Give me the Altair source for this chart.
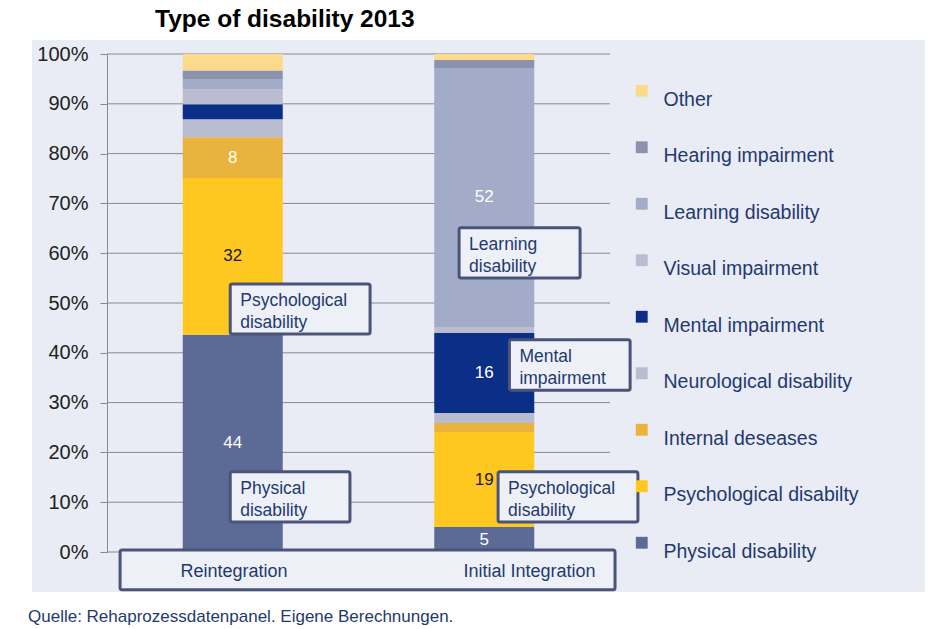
import altair as alt
import pandas as pd

# ---------------- data ----------------
title_text = "Type of disability 2013"
source_text = "Quelle: Rehaprozessdatenpanel. Eigene Berechnungen."

categories = ["Reintegration", "Initial Integration"]
# stack order bottom -> top
types = [
    "Physical disability",
    "Psychological disabilty",
    "Internal deseases",
    "Neurological disability",
    "Mental impairment",
    "Visual impairment",
    "Learning disability",
    "Hearing impairment",
    "Other",
]
reintegration = [43.6, 31.5, 8.2, 3.6, 3.0, 3.0, 2.0, 1.8, 3.3]
initial_integration = [5.0, 19.1, 1.8, 2.0, 16.1, 1.2, 52.0, 1.6, 1.2]
colors = ["#5B6B95", "#FFC820", "#E8B43E", "#B8BCD0", "#0B2E86",
          "#BABDD0", "#A2ABC8", "#8C92AC", "#FCDA8C"]
y_ticks = [0, 10, 20, 30, 40, 50, 60, 70, 80, 90, 100]

# annotation call-out boxes (x in category units, y in %)
ann_text = ["Psychological\ndisability", "Physical\ndisability",
            "Learning\ndisability", "Mental\nimpairment",
            "Psychological\ndisability"]
ann_x0 = [0.49, 0.49, 1.40, 1.60, 1.555]
ann_x1 = [1.046, 0.966, 1.881, 2.08, 2.111]
ann_y0 = [43.8, 6.0, 55.0, 32.5, 6.0]
ann_y1 = [53.8, 16.1, 65.1, 42.6, 16.1]

# category label box
cat_label_x = [0.505, 1.68]
cat_box_x = [0.052, 2.02]
cat_box_y = [0.4, -7.6]

# ---------------- tables ----------------
rows = []
for ci, (cat, vals) in enumerate(zip(categories, [reintegration, initial_integration])):
    base = 0.0
    for ti, (t, v) in enumerate(zip(types, vals)):
        rows.append(dict(category=cat, pos=ci + 0.5, type=t, order=ti, value=v,
                         y0=base, y1=base + v, mid=base + v / 2,
                         label=str(round(v)) if v >= 5 else ""))
        base += v
df = pd.DataFrame(rows)

ann = pd.DataFrame(dict(text=ann_text, x0=ann_x0, x1=ann_x1, y0=ann_y0, y1=ann_y1))
ann["mid"] = (ann.y0 + ann.y1) / 2

catlab = pd.DataFrame(dict(text=categories, x=cat_label_x,
                           y=[(cat_box_y[0] + cat_box_y[1]) / 2] * 2))
catbox = pd.DataFrame(dict(x0=[cat_box_x[0]], x1=[cat_box_x[1]],
                           y0=[cat_box_y[0]], y1=[cat_box_y[1]]))
ticks_df = pd.DataFrame(dict(tick=y_ticks))

FONT = "Liberation Sans"
TXT = "#1F3A6E"
W, H = 503, 498

xscale = alt.Scale(domain=[0, 2], nice=False, zero=False, padding=0)
yscale = alt.Scale(domain=[0, 100], nice=False, padding=0)
yaxis = alt.Axis(values=y_ticks, labelExpr="datum.value + '%'", grid=False,
                 tickSize=7, tickColor="#8a8a8a", domainColor="#8a8a8a",
                 labelFontSize=20, labelColor="#222222", labelFont=FONT,
                 labelPadding=12, title=None, zindex=1)

panel = alt.Chart(pd.DataFrame(dict(a=[0]))).mark_rect(color="#E9EBF5").encode(
    x=alt.value(-75), x2=alt.value(818), y=alt.value(-14), y2=alt.value(538))

grid = alt.Chart(ticks_df).mark_rule(color="#8a8a8a", strokeWidth=1).encode(
    y=alt.Y("tick:Q", scale=yscale, axis=yaxis),
    x=alt.value(0), x2=alt.value(W))

bars = alt.Chart(df).mark_bar(size=100).encode(
    x=alt.X("pos:Q", scale=xscale, axis=None),
    y=alt.Y("y0:Q", scale=yscale, axis=yaxis),
    y2="y1:Q",
    color=alt.Color("type:N",
                    scale=alt.Scale(domain=types[::-1], range=colors[::-1]),
                    legend=alt.Legend(title=None, orient="none", legendX=525,
                                      legendY=27, symbolType="square",
                                      symbolSize=140, symbolStrokeWidth=0,
                                      labelFontSize=19.5, labelFont=FONT,
                                      labelColor=TXT, labelOffset=12,
                                      labelBaseline="top", labelLimit=300,
                                      rowPadding=27.5)),
    order=alt.Order("order:Q"),
)

bar_labels = alt.Chart(df).mark_text(fontSize=17, font=FONT).encode(
    x=alt.X("pos:Q", scale=xscale, axis=None),
    y=alt.Y("mid:Q", scale=yscale, axis=yaxis),
    text="label:N",
    color=alt.condition("datum.type == 'Psychological disabilty'",
                        alt.value("#1a1a1a"), alt.value("white")),
)

ann_box = alt.Chart(ann).mark_rect(fill="#EEF0F8", stroke="#4A5478",
                                   strokeWidth=3, cornerRadius=2).encode(
    x=alt.X("x0:Q", scale=xscale, axis=None), x2="x1:Q",
    y=alt.Y("y0:Q", scale=yscale, axis=yaxis), y2="y1:Q")

ann_txt = alt.Chart(ann).mark_text(align="left", baseline="middle", dx=10, dy=-8,
                                   lineBreak="\n", lineHeight=22, fontSize=17.5,
                                   font=FONT, color=TXT).encode(
    x=alt.X("x0:Q", scale=xscale, axis=None),
    y=alt.Y("mid:Q", scale=yscale, axis=yaxis),
    text="text:N")

cat_box = alt.Chart(catbox).mark_rect(fill="#EEF0F8", stroke="#4A5478",
                                      strokeWidth=3, cornerRadius=2).encode(
    x=alt.X("x0:Q", scale=xscale, axis=None), x2="x1:Q",
    y=alt.Y("y0:Q", scale=yscale, axis=yaxis), y2="y1:Q")

cat_txt = alt.Chart(catlab).mark_text(fontSize=18, font=FONT, color=TXT,
                                      baseline="middle", dy=2).encode(
    x=alt.X("x:Q", scale=xscale, axis=None),
    y=alt.Y("y:Q", scale=yscale, axis=yaxis),
    text="text:N")

title = alt.Chart(pd.DataFrame(dict(t=[title_text]))).mark_text(
    fontSize=24.5, fontWeight="bold", font=FONT, color="black",
    align="left", baseline="alphabetic").encode(
    x=alt.value(48), y=alt.value(-27), text="t:N")

source = alt.Chart(pd.DataFrame(dict(t=[source_text]))).mark_text(
    fontSize=17, font=FONT, color=TXT, align="left", baseline="middle").encode(
    x=alt.value(-79), y=alt.value(563), text="t:N")

chart = alt.layer(panel, grid, bars, bar_labels, ann_box, ann_txt, cat_box,
                  cat_txt, title, source).properties(
    width=W, height=H,
    autosize=alt.AutoSizeParams(type="none"),
    padding={"left": 99, "top": 46, "right": 332, "bottom": 76},
    background="white",
).configure_view(stroke=None)

chart.save("out.html", embed_options={"renderer": "svg", "actions": False})
